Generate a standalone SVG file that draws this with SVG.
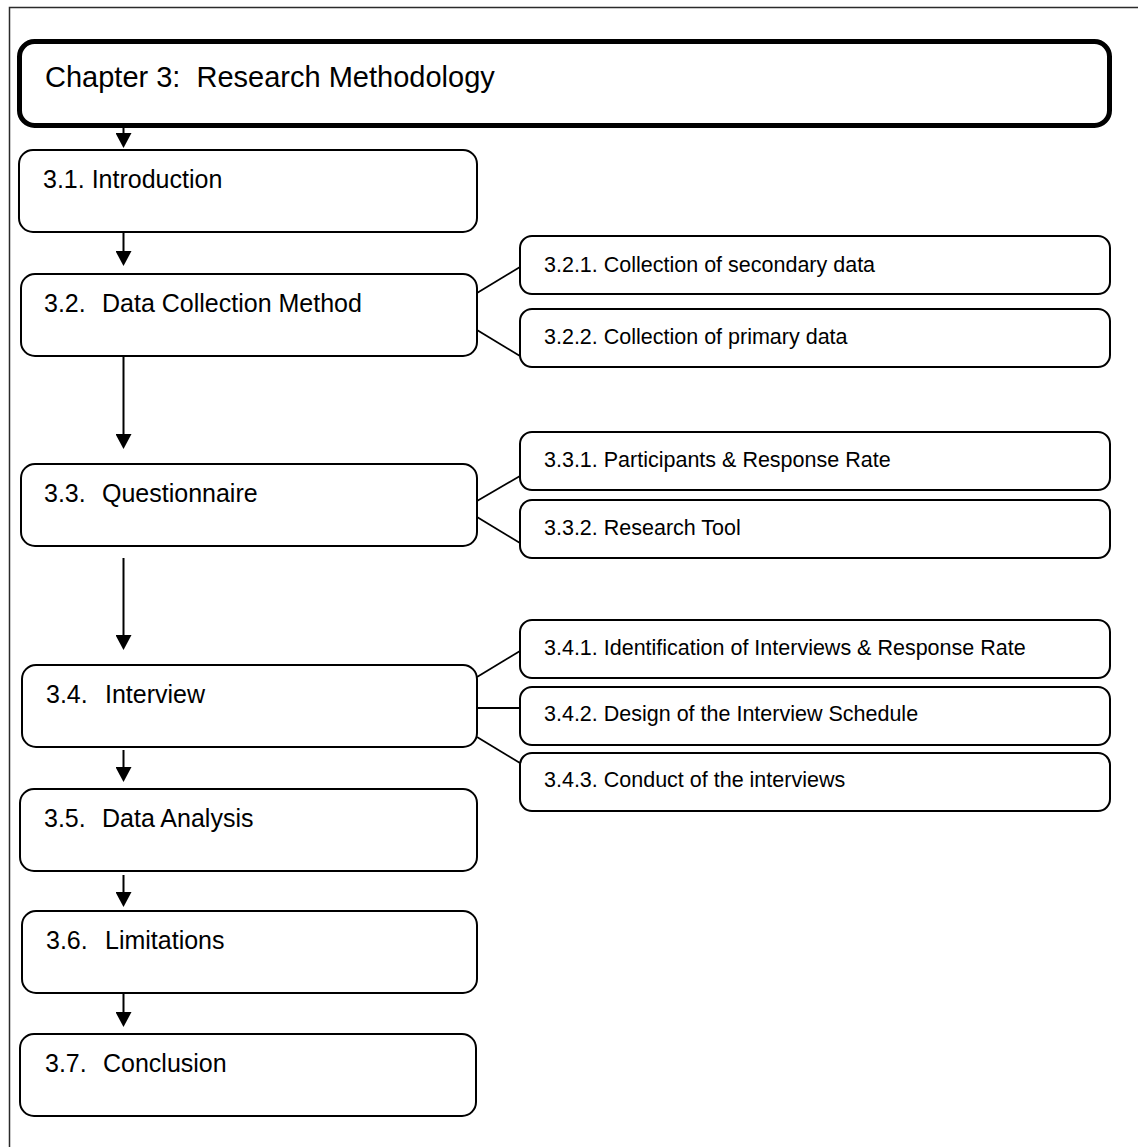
<svg xmlns="http://www.w3.org/2000/svg" width="1138" height="1147" viewBox="0 0 1138 1147">
<style>
  .frame{fill:none;stroke:#2b2b2b;stroke-width:1.5}
  .chap{fill:#fff;stroke:#000;stroke-width:5}
  .box{fill:#fff;stroke:#000;stroke-width:2}
  .sub{fill:#fff;stroke:#000;stroke-width:2}
  .t{font-family:"Liberation Sans",Arial,sans-serif;fill:#000;white-space:pre}
  .tc{font-size:29px}
  .tm{font-size:25px}
  .ts{font-size:21.5px}
  .conn line{stroke:#000;stroke-width:2}
  .link line{stroke:#000;stroke-width:1.8}
</style>
<defs>
  <marker id="ah" viewBox="0 0 15 16" markerWidth="15" markerHeight="16" refX="0" refY="8" orient="auto" markerUnits="userSpaceOnUse">
    <path d="M0,0 L15,8 L0,16 z" fill="#000"/>
  </marker>
</defs>
<rect class="frame" x="9.5" y="7.5" width="1200" height="1200"/>

<g id="chapter">
  <rect class="chap" x="19.5" y="41.5" width="1090" height="84" rx="15"/>
  <text class="t tc" x="45" y="87" xml:space="preserve">Chapter 3:  Research Methodology</text>
</g>

<g id="n31">
  <rect class="box" x="19" y="150" width="458" height="82" rx="14"/>
  <text class="t tm" x="43" y="188">3.1. Introduction</text>
</g>
<g id="n32">
  <rect class="box" x="21" y="274" width="456" height="82" rx="14"/>
  <text class="t tm" x="44" y="312">3.2.</text>
  <text class="t tm" x="102" y="312">Data Collection Method</text>
</g>
<g id="n33">
  <rect class="box" x="21" y="464" width="456" height="82" rx="14"/>
  <text class="t tm" x="44" y="502">3.3.</text>
  <text class="t tm" x="102" y="502">Questionnaire</text>
</g>
<g id="n34">
  <rect class="box" x="22" y="665" width="455" height="82" rx="14"/>
  <text class="t tm" x="46" y="703">3.4.</text>
  <text class="t tm" x="105" y="703">Interview</text>
</g>
<g id="n35">
  <rect class="box" x="20" y="789" width="457" height="82" rx="14"/>
  <text class="t tm" x="44" y="827">3.5.</text>
  <text class="t tm" x="102" y="827">Data Analysis</text>
</g>
<g id="n36">
  <rect class="box" x="22" y="911" width="455" height="82" rx="14"/>
  <text class="t tm" x="46" y="949">3.6.</text>
  <text class="t tm" x="105" y="949">Limitations</text>
</g>
<g id="n37">
  <rect class="box" x="20" y="1034" width="456" height="82" rx="14"/>
  <text class="t tm" x="45" y="1072">3.7.</text>
  <text class="t tm" x="103" y="1072">Conclusion</text>
</g>

<g id="n321">
  <rect class="sub" x="520" y="236" width="590" height="58" rx="12"/>
  <text class="t ts" x="544" y="272">3.2.1. Collection of secondary data</text>
</g>
<g id="n322">
  <rect class="sub" x="520" y="309" width="590" height="58" rx="12"/>
  <text class="t ts" x="544" y="344">3.2.2. Collection of primary data</text>
</g>
<g id="n331">
  <rect class="sub" x="520" y="432" width="590" height="58" rx="12"/>
  <text class="t ts" x="544" y="467">3.3.1. Participants &amp; Response Rate</text>
</g>
<g id="n332">
  <rect class="sub" x="520" y="500" width="590" height="58" rx="12"/>
  <text class="t ts" x="544" y="535">3.3.2. Research Tool</text>
</g>
<g id="n341">
  <rect class="sub" x="520" y="620" width="590" height="58" rx="12"/>
  <text class="t ts" x="544" y="655">3.4.1. Identification of Interviews &amp; Response Rate</text>
</g>
<g id="n342">
  <rect class="sub" x="520" y="687" width="590" height="58" rx="12"/>
  <text class="t ts" x="544" y="721">3.4.2. Design of the Interview Schedule</text>
</g>
<g id="n343">
  <rect class="sub" x="520" y="753" width="590" height="58" rx="12"/>
  <text class="t ts" x="544" y="787">3.4.3. Conduct of the interviews</text>
</g>

<g id="connectors">
  <g class="conn">
    <line x1="123.5" y1="128" x2="123.5" y2="133" marker-end="url(#ah)"/>
    <line x1="123.5" y1="233" x2="123.5" y2="251" marker-end="url(#ah)"/>
    <line x1="123.5" y1="357" x2="123.5" y2="434" marker-end="url(#ah)"/>
    <line x1="123.5" y1="558" x2="123.5" y2="635" marker-end="url(#ah)"/>
    <line x1="123.5" y1="750" x2="123.5" y2="767" marker-end="url(#ah)"/>
    <line x1="123.5" y1="875" x2="123.5" y2="892" marker-end="url(#ah)"/>
    <line x1="123.5" y1="994" x2="123.5" y2="1012" marker-end="url(#ah)"/>
  </g>
  <g class="link">
    <line x1="477" y1="293" x2="520" y2="267"/>
    <line x1="477" y1="330" x2="520" y2="356"/>
    <line x1="477" y1="501" x2="520" y2="476"/>
    <line x1="477" y1="517" x2="520" y2="543"/>
    <line x1="477" y1="677" x2="520" y2="651"/>
    <line x1="477" y1="708" x2="520" y2="708"/>
    <line x1="477" y1="737" x2="520" y2="763"/>
  </g>
</g>
</svg>
